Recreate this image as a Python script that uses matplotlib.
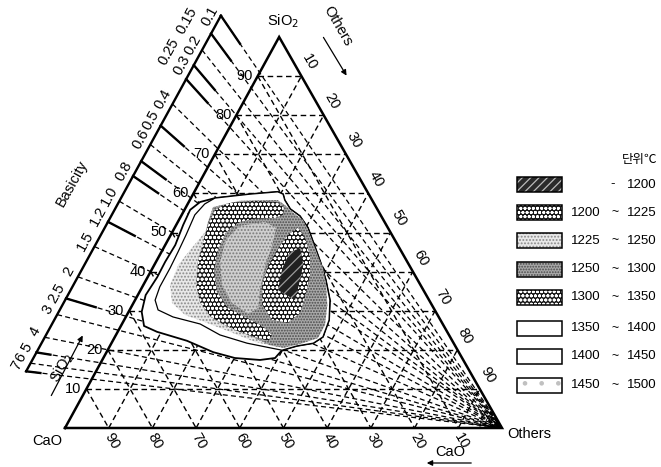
import matplotlib
matplotlib.use('Agg')
import matplotlib.pyplot as plt
from matplotlib.patches import Polygon, Rectangle
import numpy as np

plt.rcParams['font.family'] = ['Liberation Sans', 'DejaVu Sans']
plt.rcParams['hatch.linewidth'] = 0.9

# ---------------- data ----------------
GRID = [10, 20, 30, 40, 50, 60, 70, 80, 90]
BASICITY = [0.1, 0.15, 0.2, 0.25, 0.3, 0.4, 0.5, 0.6, 0.7, 0.8, 1.0, 1.2, 1.5, 2, 2.5, 3, 4, 5, 6, 7]
BASICITY_LABELS = ['0.1', '0.15', '0.2', '0.25', '0.3', '0.4', '0.5', '0.6', '', '0.8', '1.0', '1.2',
                   '1.5', '2', '2.5', '3', '4', '5', '6', '7']
BASICITY_SOLID = [0.1, 0.15, 0.25, 0.3, 0.5, 0.7, 0.8, 1.2, 2.5, 5, 7]

# region boundaries in mass % (CaO, SiO2); Others = 100 - CaO - SiO2
OUTER_CAO = [35.7, 39.6, 42.9, 46.5, 50.9, 55.4, 59.2, 64.2, 67.3, 68.6, 66.4, 60.7, 56.2, 52.0, 46.5,
             42.8, 40.2, 36.2, 32.1, 29.1, 25.5, 22.7, 21.0, 19.9, 19.1, 18.3, 18.6, 19.9, 20.0, 19.6, 20.5, 27.2]
OUTER_SIO2 = [58.8, 57.8, 55.8, 51.9, 46.8, 42.5, 38.6, 34.0, 29.7, 26.1, 24.6, 22.3, 19.4, 17.9, 17.4,
              17.9, 19.9, 21.0, 21.7, 23.3, 27.6, 32.7, 37.9, 42.5, 46.8, 51.2, 54.2, 56.0, 58.3, 59.8, 60.4, 59.8]

SECOND_CAO = [35.7, 38.8, 42.5, 47.1, 51.2, 55.1, 59.9, 62.7, 63.3, 60.8, 55.5, 52.4, 47.3, 42.6,
              40.2, 36.2, 32.1, 29.1, 25.5, 22.7, 21.0, 19.9, 19.1, 18.3, 18.6, 19.9, 20.0, 19.6, 20.5, 27.2]
SECOND_SIO2 = [58.8, 57.3, 54.5, 49.4, 45.0, 40.9, 36.1, 32.7, 30.2, 28.4, 26.6, 23.8, 21.7, 20.5,
               19.9, 21.0, 21.7, 23.3, 27.6, 32.7, 37.9, 42.5, 46.8, 51.2, 54.2, 56.0, 58.3, 59.8, 60.4, 59.8]

T1450_CAO = [37.6, 42.4, 48.2, 52.8, 57.3, 59.2, 57.8, 54.2, 49.7, 45.3, 40.7, 36.4, 32.1, 25.3, 26.9, 33.5]
T1450_SIO2 = [55.0, 50.1, 45.5, 41.7, 36.6, 32.0, 28.9, 27.1, 24.6, 22.0, 20.7, 21.5, 27.6, 45.5, 55.8, 56.3]

T1250_CAO = [37.3, 30.4, 21.6, 20.6, 19.7, 18.4, 18.6, 19.1, 19.7, 20.1, 21.6, 23.9, 27.1, 30.4, 35.2,
             39.6, 42.3, 44.8, 48.3, 51.6, 52.5, 51.1, 47.6, 43.7, 40.4]
T1250_SIO2 = [56.5, 58.1, 58.3, 57.0, 55.0, 53.2, 50.6, 47.3, 44.0, 40.9, 36.6, 31.5, 26.3, 23.0, 21.5,
              20.5, 21.2, 23.0, 25.1, 27.6, 31.5, 36.6, 42.5, 48.1, 52.7]

T1300_CAO = [37.2, 33.4, 26.9, 21.8, 21.2, 22.3, 24.5, 29.2, 33.1, 37.6, 41.8, 45.3, 47.5, 47.0, 44.3,
             41.6, 40.5, 42.1, 44.6, 47.5, 50.0, 52.2, 52.7, 51.3, 47.9, 44.1, 40.8]
T1300_SIO2 = [55.8, 57.5, 58.1, 57.8, 56.3, 54.5, 53.7, 53.5, 52.7, 50.1, 45.5, 40.4, 34.8, 30.7, 28.4,
              26.1, 23.8, 22.3, 23.3, 24.6, 26.3, 28.6, 32.2, 36.6, 42.5, 47.6, 51.9]

T1225_CAO = [33.6, 27.3, 25.6, 28.7, 32.9, 37.4, 40.1, 43.2, 45.5, 45.4, 42.8, 38.7]
T1225_SIO2 = [51.7, 52.7, 51.2, 46.8, 41.7, 35.3, 30.7, 29.2, 32.0, 36.6, 42.5, 48.1]

T1200_CAO = [20.6, 20.2, 21.4, 24.0, 27.6, 31.2, 35.3, 38.5, 38.8, 36.2, 32.2, 28.3, 23.8]
T1200_SIO2 = [51.2, 48.8, 44.2, 39.1, 34.0, 29.4, 26.9, 27.6, 31.5, 36.6, 41.7, 45.5, 49.4]

TLOW_CAO = [25.6, 22.7, 24.2, 28.4, 30.7, 33.3, 29.4]
TLOW_SIO2 = [45.0, 46.0, 41.7, 35.8, 32.7, 35.3, 40.9]

LEGEND_LO = ['', '1200', '1225', '1250', '1300', '1350', '1400', '1450']
LEGEND_HI = ['1200', '1225', '1250', '1300', '1350', '1400', '1450', '1500']

# ---------------- layout ----------------
W, H = 661, 467
X0, X1 = 65, 502      # pixel x of CaO / Others corners
Y0, Y1 = 428, 37      # pixel y of base / apex
APEX = 0.49
K_BAS = 0.16          # offset of basicity scale outside the CaO-SiO2 side

fig = plt.figure(figsize=(W / 100, H / 100), dpi=100)
ax = fig.add_axes([0, 0, 1, 1])
ax.set_xlim(-X0 / (X1 - X0), (W - X0) / (X1 - X0))
ax.set_ylim(-(H - Y0) / (Y0 - Y1), Y0 / (Y0 - Y1))
ax.axis('off')


def tern(cao, sio2, others):
    cao, sio2, others = np.asarray(cao, float), np.asarray(sio2, float), np.asarray(others, float)
    return others + APEX * sio2, sio2


def p2d(px, py):
    return (px - X0) / (X1 - X0), (Y0 - py) / (Y0 - Y1)


DASH = (0, (4, 2.6))
LW_G = 1.0

# triangle
tri = np.array([tern(1, 0, 0), tern(0, 1, 0), tern(0, 0, 1), tern(1, 0, 0)])
ax.plot(tri[:, 0], tri[:, 1], color='black', lw=1.8, zorder=20, solid_joinstyle='miter')

# grid
for v in GRID:
    f = v / 100
    for a, b in [(tern(1 - f, f, 0), tern(0, f, 1 - f)),
                 (tern(f, 1 - f, 0), tern(f, 0, 1 - f)),
                 (tern(1 - f, 0, f), tern(0, 1 - f, f))]:
        ax.plot([a[0], b[0]], [a[1], b[1]], color='black', lw=LW_G, ls=DASH, zorder=1)

# basicity lines
def bas_point(B):
    s = (1 + K_BAS) / (1 + B)
    c = (1 + K_BAS) * B / (1 + B)
    return tern(c, s, -K_BAS)

ov = tern(0, 0, 1)
bp_first = bas_point(BASICITY[0])
bp_last = bas_point(BASICITY[-1])
ax.plot([bp_first[0], bp_last[0]], [bp_first[1], bp_last[1]], color='black', lw=1.7, zorder=20)
nx, ny = -0.876, 0.482   # outward normal (pixel units, y up)
LABEL_SHIFT = {'0.1': (9, -6), '0.15': (28, 0), '0.25': (28, 0), '0.3': (11, 10)}
for B, lab in zip(BASICITY, BASICITY_LABELS):
    p = bas_point(B)
    ax.plot([p[0], ov[0]], [p[1], ov[1]], color='black', lw=0.9, ls=DASH, zorder=1)
    if B in BASICITY_SOLID:
        fr = 0.03 if B >= 5 else 0.068
        q = (p[0] + fr * (ov[0] - p[0]), p[1] + fr * (ov[1] - p[1]))
        ax.plot([p[0], q[0]], [p[1], q[1]], color='black', lw=1.7, zorder=20)
    if lab:
        d, along = LABEL_SHIFT.get(lab, (11, 0))
        ax.annotate(lab, xy=p, xytext=(nx * d + 0.482 * along, ny * d + 0.876 * along),
                    textcoords='offset pixels', ha='center', va='center',
                    rotation=61, fontsize=10.5, zorder=21)

# small arcs at Others corner
for r in [7, 12, 17, 22]:
    th = np.linspace(np.radians(121), np.radians(180), 30)
    px = X1 + r * np.cos(th)
    py = 427 - r * np.sin(th)
    xs, ys = p2d(px, py)
    ax.plot(xs, ys, color='black', lw=0.6, zorder=2)

# ---------------- regions ----------------
def region(cao, sio2, face, hatch=None, hcol='black', z=3, outline=None, olw=1.0):
    c = np.array(cao) / 100
    s = np.array(sio2) / 100
    x, y = tern(c, s, 1 - c - s)
    pts = np.column_stack([x, y])
    ax.add_patch(Polygon(pts, closed=True, facecolor=face, edgecolor=hcol, hatch=hatch,
                         lw=0, zorder=z))
    if outline:
        ax.add_patch(Polygon(pts, closed=True, fill=False, edgecolor=outline, lw=olw, zorder=z + 0.5))

DARK = '#161616'
DOTS = 'oooo'
region(OUTER_CAO, OUTER_SIO2, 'white', z=3, outline='black', olw=1.3)
region(SECOND_CAO, SECOND_SIO2, 'white', z=4, outline='black', olw=0.9)
region(T1450_CAO, T1450_SIO2, '#e8e8e8', hatch='.....', hcol='#8a8a8a', z=5)
region(T1250_CAO, T1250_SIO2, '#a9a9a9', hatch='......', hcol='#4a4a4a', z=6)
region(T1300_CAO, T1300_SIO2, DARK, hatch=DOTS, hcol='white', z=7)
region(T1225_CAO, T1225_SIO2, '#cfcfcf', hatch='.....', hcol='#7a7a7a', z=7)
region(T1200_CAO, T1200_SIO2, DARK, hatch=DOTS, hcol='white', z=8)
region(TLOW_CAO, TLOW_SIO2, '#202020', hatch='///', hcol='#9a9a9a', z=9)

# ---------------- axis labels ----------------
FS = 10.5
for v in GRID:
    f = v / 100
    ax.annotate(str(v), xy=tern(1 - f, f, 0), xytext=(-5, 0), textcoords='offset pixels',
                ha='right', va='center', fontsize=FS, zorder=21)
    ax.annotate(str(v), xy=tern(0, 1 - f, f), xytext=(8, 14), textcoords='offset pixels',
                ha='center', va='center', fontsize=FS, rotation=-60, zorder=21)
    ax.annotate(str(v), xy=tern(f, 0, 1 - f), xytext=(3, -13), textcoords='offset pixels',
                ha='center', va='center', fontsize=FS, rotation=-60, zorder=21)

ax.annotate('SiO$_2$', xy=tern(0, 1, 0), xytext=(4, 16), textcoords='offset pixels',
            ha='center', va='center', fontsize=10.5)
ax.annotate('CaO', xy=tern(1, 0, 0), xytext=(-18, -13), textcoords='offset pixels',
            ha='center', va='center', fontsize=10.5)
ax.annotate('Others', xy=tern(0, 0, 1), xytext=(27, -6), textcoords='offset pixels',
            ha='center', va='center', fontsize=10.5)

ax.text(*p2d(72, 183), 'Basicity', rotation=61, ha='center', va='center', fontsize=10.5)

# SiO2 arrow (left)
ax.annotate('', xy=p2d(84, 333), xytext=p2d(50, 398),
            arrowprops=dict(arrowstyle='-|>', color='black', lw=0.9, mutation_scale=8))
ax.text(*p2d(62, 368), 'SiO$_2$', rotation=61, ha='center', va='center', fontsize=10.5)
# CaO arrow (bottom)
ax.annotate('', xy=p2d(424, 463), xytext=p2d(474, 463),
            arrowprops=dict(arrowstyle='-|>', color='black', lw=0.9, mutation_scale=8))
ax.text(*p2d(450, 452), 'CaO', ha='center', va='center', fontsize=10.5)
# Others arrow (top)
ax.annotate('', xy=p2d(348, 78), xytext=p2d(322, 35),
            arrowprops=dict(arrowstyle='-|>', color='black', lw=0.9, mutation_scale=8))
ax.text(*p2d(338, 26), 'Others', rotation=-60, ha='center', va='center', fontsize=10.5)

# ---------------- legend ----------------
styles = [
    dict(facecolor='#2a2a2a', hatch='////', hcol='#bbbbbb'),
    dict(facecolor=DARK, hatch=DOTS, hcol='white'),
    dict(facecolor='#e8e8e8', hatch='.....', hcol='#8a8a8a'),
    dict(facecolor='#a9a9a9', hatch='......', hcol='#4a4a4a'),
    dict(facecolor=DARK, hatch=DOTS, hcol='white'),
    dict(facecolor='white', hatch=None, hcol='black'),
    dict(facecolor='white', hatch=None, hcol='black'),
    dict(facecolor='white', hatch='.', hcol='#c0c0c0'),
]
rows = [184.5, 212.5, 240.5, 269.5, 297.5, 328, 356, 385]
for yc, lo, hi, st in zip(rows, LEGEND_LO, LEGEND_HI, styles):
    x0, y0 = p2d(517, yc + 7.5)
    x1, y1 = p2d(562, yc - 7.5)
    ax.add_patch(Rectangle((x0, y0), x1 - x0, y1 - y0, facecolor=st['facecolor'],
                           edgecolor=st['hcol'], hatch=st['hatch'], lw=0, zorder=5))
    ax.add_patch(Rectangle((x0, y0), x1 - x0, y1 - y0, fill=False, edgecolor='black', lw=1.1, zorder=6))
    if lo:
        ax.text(*p2d(601, yc), lo, ha='right', va='center', fontsize=9.5)
        ax.text(*p2d(615, yc), '~', ha='center', va='center', fontsize=9)
    else:
        ax.text(*p2d(613, yc), '-', ha='center', va='center', fontsize=9.5)
    ax.text(*p2d(627, yc), hi, ha='left', va='center', fontsize=9.5)

ax.text(*p2d(640, 160), '단위℃', ha='center', va='center', fontsize=9,
        family=['Noto Sans CJK KR', 'DejaVu Sans'])

fig.savefig('out.png', dpi=100)
